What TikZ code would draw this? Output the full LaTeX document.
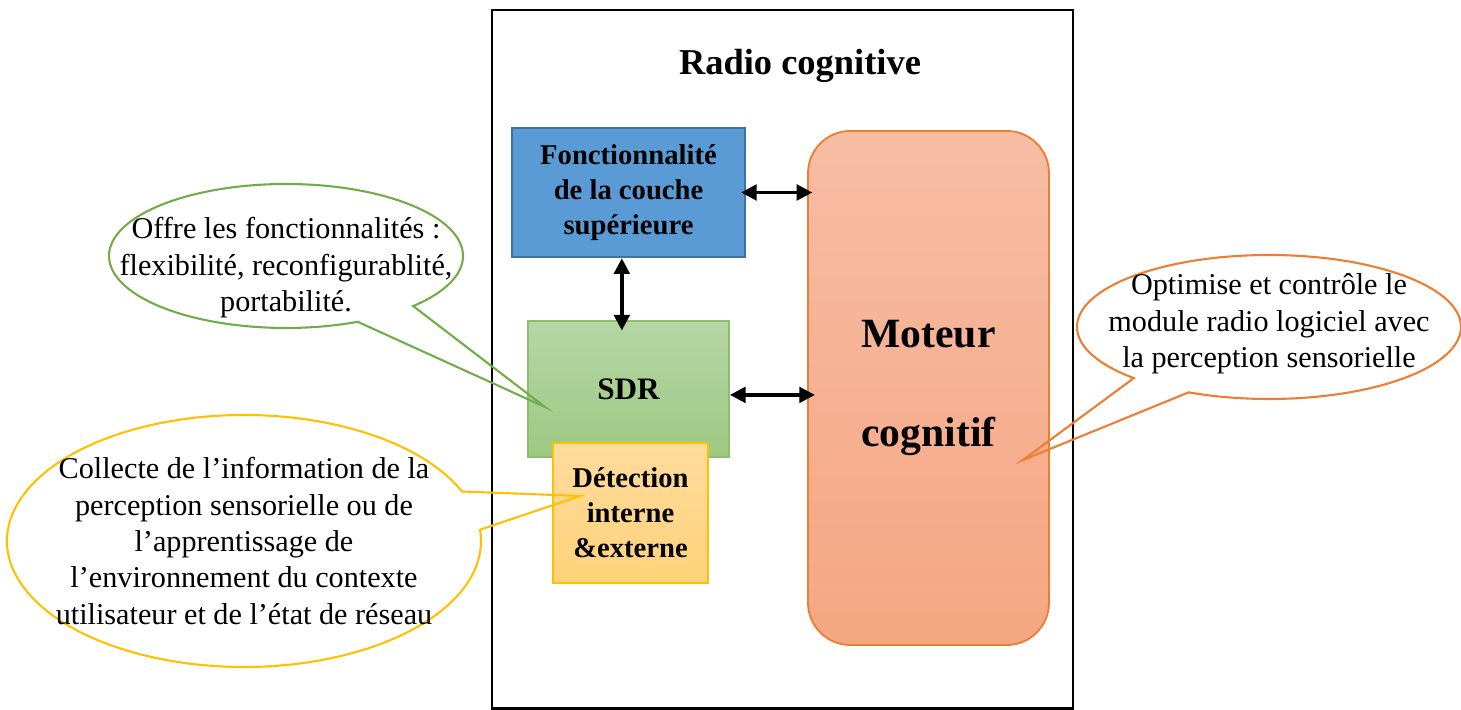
\documentclass[tikz,border=0pt]{standalone}
\usepackage{fontspec}
\setmainfont{Liberation Serif}
\usetikzlibrary{shapes.callouts, arrows.meta}
\definecolor{clrUpper}{HTML}{5B9BD5}
\definecolor{clrUpperLine}{HTML}{41719C}
\definecolor{clrSdrTop}{HTML}{B5D6A6}
\definecolor{clrSdrBot}{HTML}{9DC982}
\definecolor{clrSdrLine}{HTML}{8BBF6E}
\definecolor{clrDetTop}{HTML}{FFDC9C}
\definecolor{clrDetBot}{HTML}{FFD27A}
\definecolor{clrDetLine}{HTML}{FFC000}
\definecolor{clrMotTop}{HTML}{F7BDA4}
\definecolor{clrMotBot}{HTML}{F5A682}
\definecolor{clrMotLine}{HTML}{ED7D31}
\definecolor{clrGreen}{HTML}{70AD47}
\definecolor{clrYellow}{HTML}{FFC000}
\definecolor{clrOrange}{HTML}{ED7D31}
\newcommand{\px}{0.0135cm}

\begin{document}
\begin{tikzpicture}[x=\px, y=\px,
    block/.style={rectangle, align=center, font=\fontsize{11}{13.4}\selectfont\bfseries, line width=0.7pt},
    bubble/.style={ellipse callout, line width=0.8pt, inner sep=0pt},
    bubbletext/.style={align=center, font=\fontsize{11.6}{14}\selectfont},
    link/.style={<->, >={Triangle[length=6pt, width=6pt]}, line width=1.3pt},
]
\useasboundingbox (0,0) rectangle (1461,710);

% Frame and title
\draw[line width=0.9pt] (492,1.5) rectangle (1073,700);
\node[font=\fontsize{14}{16}\selectfont\bfseries] (title) at (800,644) {Radio cognitive};

% Blocks
\node[block, fill=clrUpper, draw=clrUpperLine, line width=1pt, minimum width=233*\px, minimum height=129*\px] (upper) at (628.5,517.5) {Fonctionnalité\\de la couche\\supérieure};
\node[block, top color=clrSdrTop, bottom color=clrSdrBot, draw=clrSdrLine, font=\fontsize{12}{14}\selectfont\bfseries, minimum width=201*\px, minimum height=136*\px] (sdr) at (628.5,321) {SDR};
\node[block, top color=clrDetTop, bottom color=clrDetBot, draw=clrDetLine, minimum width=155*\px, minimum height=140*\px] (detect) at (630.5,197) {Détection\\interne\\\&externe};
\node[block, rounded corners=0.57cm, top color=clrMotTop, bottom color=clrMotBot, draw=clrMotLine, font=\fontsize{16}{38}\selectfont\bfseries, minimum width=241*\px, minimum height=514*\px] (moteur) at (928.5,322) {Moteur\\cognitif};

% Links
\draw[link, shorten <=-2pt, shorten >=-2pt] (upper.east) -- (upper.east -| moteur.west);
\draw[link, shorten >=-3pt] ([yshift=-0.08cm]sdr.east) -- ([yshift=-0.08cm]sdr.east -| moteur.west);
\draw[link, shorten >=-4pt] ([xshift=-0.09cm]upper.south) -- ([xshift=-0.09cm]sdr.north);

% Callouts
\coordinate (sdrtip) at (545,303);
\coordinate (dettip) at (580,214);
\coordinate (mottip) at (1023,250);

\node[bubble, draw=clrGreen, minimum width=354*\px, minimum height=144*\px, callout absolute pointer={(sdrtip)}, callout pointer arc=22] (offre) at (286,454) {};
\node[bubbletext] at ([yshift=-0.16cm]offre.center) {Offre les fonctionnalités :\\flexibilité, reconfigurablité,\\portabilité.};

\node[bubble, draw=clrYellow, minimum width=474*\px, minimum height=252*\px, callout absolute pointer={(dettip)}, callout pointer arc=18] (collecte) at (244,169) {};
\node[bubbletext] at (collecte.center) {Collecte de l’information de la\\perception sensorielle ou de\\l’apprentissage de\\l’environnement du contexte\\utilisateur et de l’état de réseau};

\node[bubble, draw=clrOrange, minimum width=384*\px, minimum height=144*\px, callout absolute pointer={(mottip)}, callout pointer arc=20] (optimise) at (1269,383) {};
\node[bubbletext] at ([yshift=0.04cm]optimise.center) {Optimise et contrôle le\\module radio logiciel avec\\la perception sensorielle};

\end{tikzpicture}
\end{document}
